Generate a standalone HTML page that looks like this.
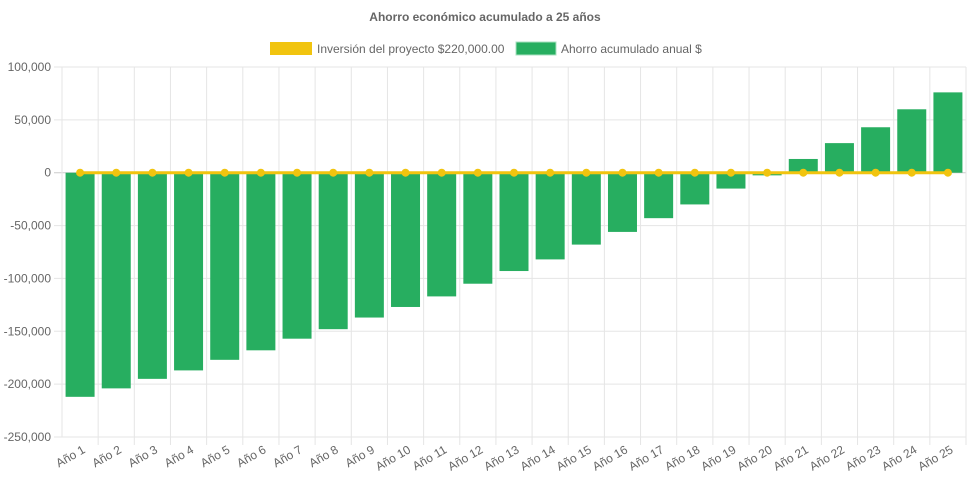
<!DOCTYPE html>
<html><head><meta charset="utf-8"><style>
body{margin:0;background:#fff;font-family:"Liberation Sans",sans-serif;}
svg text{font-family:"Liberation Sans",sans-serif;}
</style></head><body>
<svg id="c" width="971" height="485">
<text x="485" y="21" text-anchor="middle" font-size="12" font-weight="bold" fill="#666">Ahorro económico acumulado a 25 años</text>
<g>
<rect x="270" y="42" width="42" height="13" fill="#f1c40f"/>
<text x="317" y="53" font-size="12" fill="#666">Inversión del proyecto $220,000.00</text>
<rect x="516" y="42" width="40" height="13" fill="#27ae60" stroke="#a8e0c0"/>
<text x="561" y="53" font-size="12" fill="#666">Ahorro acumulado anual $</text>
</g>
<g id="grid"></g><g id="bars"></g><g id="line"></g><g id="labels"></g>
</svg>
<script>
const categories=[];for(let i=1;i<=25;i++)categories.push('Año '+i);
const savings=[-212000,-204000,-195000,-187000,-177000,-168000,-157000,-148000,-137000,-127000,-117000,-105000,-93000,-82000,-68000,-56000,-43000,-30000,-15000,-2500,13000,28000,43000,60000,76000];
const investment=[0,0,0,0,0,0,0,0,0,0,0,0,0,0,0,0,0,0,0,0,0,0,0,0,0];
const yTicks=[100000,50000,0,-50000,-100000,-150000,-200000,-250000];
const tickLabels=['100,000','50,000','0','-50,000','-100,000','-150,000','-200,000','-250,000'];
const L=62,R=966,T=67,B=437,ymax=100000,ymin=-250000;
const ns='http://www.w3.org/2000/svg';
const y=v=>T+(ymax-v)/(ymax-ymin)*(B-T);
const bw=(R-L)/categories.length;
const x=i=>L+bw*(i+0.5);
function mk(t,a,p){const e=document.createElementNS(ns,t);for(const k in a)e.setAttribute(k,a[k]);document.getElementById(p).appendChild(e);return e;}
yTicks.forEach((v,i)=>{
 const g=mk('line',{x1:L-8,x2:R,y1:y(v),y2:y(v),stroke:v===0?'#ccc':'#e5e5e5'},'grid');
 
 
 const t=mk('text',{x:L-11,y:y(v)+4,'text-anchor':'end','font-size':12,fill:'#666'},'labels');
 t.textContent=tickLabels[i];
 
 
});
for(let i=0;i<=categories.length;i++){
 const g=mk('line',{x1:L+bw*i,x2:L+bw*i,y1:T,y2:B+(i>0?8:0),stroke:'#e5e5e5'},'grid');
 
 
}
categories.forEach((c,i)=>{
 const v=savings[i];
 const r=mk('rect',{x:x(i)-14.5,width:29,y:Math.min(y(v),y(0)),height:Math.abs(y(v)-y(0)),fill:'#27ae60'},'bars');
 
 
 const t=mk('text',{transform:`translate(${x(i)+6},${B+15}) rotate(-30)`,'text-anchor':'end','font-size':12,fill:'#666'},'labels');
 t.textContent=c;
 
 
});
const pl=mk('polyline',{points:investment.map((v,i)=>x(i)+','+y(v)).join(' '),fill:'none',stroke:'#f1c40f','stroke-width':3},'line');


investment.forEach((v,i)=>{
 const p=mk('circle',{cx:x(i),cy:y(v),r:4,fill:'#f1c40f'},'line');
 
 
});
</script>
</body></html>
